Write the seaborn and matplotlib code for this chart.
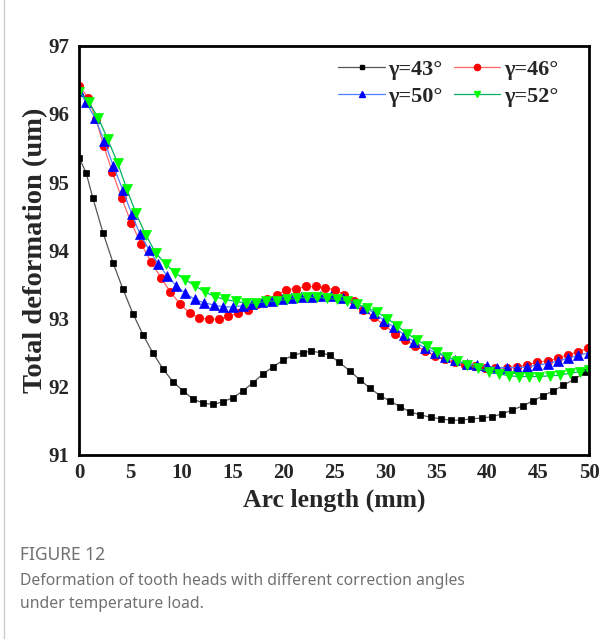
import matplotlib
matplotlib.use("Agg")
import matplotlib.pyplot as plt
from matplotlib.lines import Line2D
from matplotlib.ticker import MultipleLocator
import pandas as pd
import seaborn as sns

# gamma = 43 deg
x_43 = [0, 0.66, 1.34, 2.32, 3.30, 4.28, 5.26, 6.25, 7.23, 8.21, 9.19, 10.17, 11.15,
        12.13, 13.11, 14.09, 15.07, 16.05, 17.03, 18.01, 18.99, 19.97, 20.95, 21.93,
        22.72, 23.70, 24.55, 25.46, 26.54, 27.52, 28.50, 29.48, 30.46, 31.44, 32.42,
        33.40, 34.48, 35.46, 36.44, 37.42, 38.40, 39.45, 40.43, 41.41, 42.45, 43.47,
        44.45, 45.49, 46.47, 47.45, 48.50, 49.58]
y_43 = [95.35, 95.14, 94.76, 94.26, 93.82, 93.43, 93.07, 92.76, 92.49, 92.26, 92.07,
        91.94, 91.82, 91.76, 91.74, 91.78, 91.84, 91.94, 92.06, 92.19, 92.29, 92.39,
        92.46, 92.50, 92.52, 92.50, 92.46, 92.36, 92.23, 92.10, 91.98, 91.87, 91.79,
        91.71, 91.63, 91.59, 91.55, 91.53, 91.51, 91.51, 91.53, 91.54, 91.56, 91.60,
        91.66, 91.72, 91.79, 91.87, 91.94, 92.02, 92.11, 92.21]

# gamma = 46 deg
x_46 = [0, 0.85, 1.64, 2.39, 3.24, 4.16, 5.10, 6.05, 7.03, 8.01, 8.92, 9.90, 10.82,
        11.76, 12.72, 13.66, 14.61, 15.56, 16.51, 17.45, 18.40, 19.35, 20.29, 21.25,
        22.20, 23.18, 24.12, 25.10, 25.98, 26.93, 27.84, 28.89, 29.90, 30.95, 31.93,
        32.91, 33.89, 34.87, 35.85, 36.83, 37.81, 38.79, 39.77, 40.75, 41.90, 42.88,
        43.86, 44.84, 45.92, 46.90, 47.88, 48.86, 49.90]
y_46 = [96.41, 96.24, 95.92, 95.53, 95.15, 94.76, 94.40, 94.10, 93.83, 93.60, 93.39,
        93.21, 93.08, 93.01, 92.99, 92.99, 93.03, 93.08, 93.13, 93.21, 93.28, 93.35,
        93.42, 93.44, 93.47, 93.47, 93.45, 93.42, 93.35, 93.26, 93.13, 93.02, 92.90,
        92.78, 92.68, 92.60, 92.53, 92.45, 92.40, 92.36, 92.32, 92.30, 92.28, 92.27,
        92.28, 92.29, 92.32, 92.36, 92.38, 92.42, 92.47, 92.51, 92.57]

# gamma = 50 deg
x_50 = [0, 0.66, 1.54, 2.45, 3.33, 4.25, 5.14, 5.95, 6.86, 7.75, 8.63, 9.51, 10.39,
        11.34, 12.23, 13.18, 14.12, 15.07, 16.02, 16.96, 17.91, 18.86, 19.84, 20.78,
        21.74, 22.69, 23.63, 24.70, 25.88, 26.96, 27.94, 28.92, 29.90, 30.88, 31.86,
        32.84, 33.89, 34.87, 35.85, 36.83, 37.98, 38.96, 39.94, 40.92, 41.96, 42.94,
        43.92, 44.90, 45.98, 46.96, 47.94, 48.92, 50.0]
y_50 = [96.33, 96.17, 95.94, 95.60, 95.24, 94.89, 94.53, 94.24, 94.00, 93.80, 93.62,
        93.48, 93.37, 93.28, 93.23, 93.20, 93.17, 93.17, 93.19, 93.21, 93.24, 93.26,
        93.28, 93.30, 93.31, 93.32, 93.33, 93.33, 93.30, 93.23, 93.16, 93.08, 92.97,
        92.87, 92.76, 92.66, 92.57, 92.50, 92.44, 92.39, 92.34, 92.32, 92.30, 92.28,
        92.28, 92.28, 92.29, 92.32, 92.34, 92.38, 92.42, 92.46, 92.50]

# gamma = 52 deg
x_52 = [0, 0.95, 1.86, 2.78, 3.76, 4.65, 5.56, 6.54, 7.49, 8.47, 9.38, 10.39, 11.34,
        12.32, 13.30, 14.31, 15.33, 16.31, 17.32, 18.33, 19.35, 20.33, 21.31, 22.29,
        23.27, 24.25, 25.24, 26.22, 27.20, 28.18, 29.22, 30.20, 31.18, 32.16, 33.14,
        34.12, 35.10, 36.08, 37.06, 38.04, 39.12, 40.17, 41.15, 42.13, 43.11, 44.09,
        45.07, 46.12, 47.10, 48.14, 49.12, 50.0]
y_52 = [96.32, 96.17, 95.94, 95.63, 95.28, 94.90, 94.54, 94.22, 93.96, 93.80, 93.67,
        93.57, 93.48, 93.39, 93.32, 93.28, 93.25, 93.23, 93.23, 93.25, 93.26, 93.28,
        93.30, 93.31, 93.31, 93.30, 93.28, 93.26, 93.21, 93.16, 93.09, 93.00, 92.89,
        92.78, 92.68, 92.60, 92.51, 92.44, 92.38, 92.32, 92.27, 92.22, 92.19, 92.16,
        92.15, 92.15, 92.15, 92.16, 92.17, 92.20, 92.22, 92.24]

labels = ["γ=43°", "γ=46°", "γ=50°", "γ=52°"]

sns.set_style("white")
plt.rcParams["font.family"] = ["Liberation Serif", "DejaVu Serif"]

fig = plt.figure(figsize=(6.12, 6.39), dpi=100)
ax = fig.add_axes([0.1296, 0.288, 0.8334, 0.6405])

series = [
    (x_43, y_43, labels[0], "s", "#000000", "#555555", 5.0),
    (x_46, y_46, labels[1], "o", "#ff0000", "#ff6666", 6.0),
    (x_50, y_50, labels[2], "^", "#0000ff", "#4d7fff", 6.5),
    (x_52, y_52, labels[3], "v", "#00ff00", "#00b060", 6.5),
]

handles = {}
for xs, ys, lab, mk, mcol, lcol, ms in series:
    df = pd.DataFrame({"arc": xs, "deform": ys})
    sns.lineplot(data=df, x="arc", y="deform", ax=ax, estimator=None, sort=False,
                 color=lcol, linewidth=0.9, marker=mk, markersize=ms,
                 markerfacecolor=mcol, markeredgecolor=mcol, markeredgewidth=0.5)
    handles[lab] = Line2D([], [], color=lcol, linewidth=0.9, marker=mk,
                          markersize=ms - 1.5, markerfacecolor=mcol,
                          markeredgecolor=mcol, label=lab)

ax.set_xlim(0, 50)
ax.set_ylim(91, 97)
ax.xaxis.set_major_locator(MultipleLocator(5))
ax.xaxis.set_minor_locator(MultipleLocator(2.5))
ax.yaxis.set_major_locator(MultipleLocator(1))
ax.yaxis.set_minor_locator(MultipleLocator(0.5))
ax.tick_params(which="major", direction="in", length=6, width=1.8,
               labelsize=15, pad=6)
ax.tick_params(axis="y", which="major", pad=7)
ax.tick_params(which="minor", direction="in", length=3, width=1.5)
for lab in ax.get_xticklabels() + ax.get_yticklabels():
    lab.set_fontweight("bold")
for sp in ax.spines.values():
    sp.set_linewidth(2.0)
    sp.set_color("black")

ax.set_xlabel("Arc length (mm)", fontsize=18.5, fontweight="bold", labelpad=4)
ax.set_ylabel("Total deformation (um)", fontsize=20.5, fontweight="bold", labelpad=0)

# column-wise fill: 43 / 50 in the first column, 46 / 52 in the second
order = [labels[0], labels[2], labels[1], labels[3]]
ax.legend(handles=[handles[k] for k in order], ncol=2, loc="upper right",
          bbox_to_anchor=(0.965, 1.0), frameon=False,
          prop={"weight": "bold", "size": 16},
          handlelength=2.1, handletextpad=0.15, columnspacing=0.5,
          labelspacing=0.3, borderaxespad=0.2)

# caption under the chart
cap_font = ["Noto Sans", "DejaVu Sans"]
fig.text(0.032, 0.124, "FIGURE 12", fontsize=12.5, color="#707070", family=cap_font)
fig.text(0.032, 0.085, "Deformation of tooth heads with different correction angles",
         fontsize=11.3, color="#707070", family=cap_font)
fig.text(0.032, 0.049, "under temperature load.", fontsize=11.3, color="#707070",
         family=cap_font)
fig.add_artist(Line2D([0.006, 0.006], [0, 1], transform=fig.transFigure,
                      color="#cccccc", linewidth=1))

fig.savefig("out.png", dpi=100)
